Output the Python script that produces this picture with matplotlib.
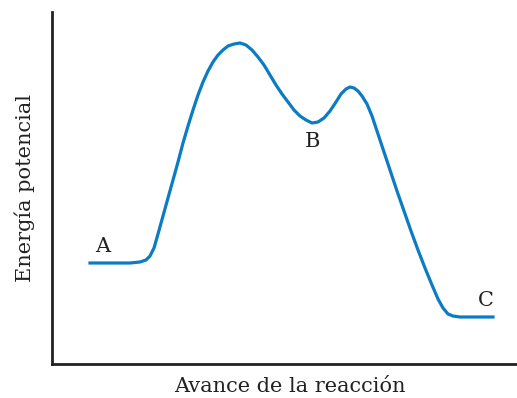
import matplotlib.pyplot as plt

# reaction coordinate (pixel-derived units) and potential energy
progress = [38, 48, 58, 68, 78, 88, 94, 98, 102, 106, 111, 116, 121, 126, 131, 136,
            141, 146, 151, 156, 161, 166, 171, 176, 182, 188, 194, 200, 206, 212,
            218, 224, 230, 236, 242, 248, 254, 260, 266, 272, 278, 284, 289, 294,
            298, 302, 306, 310, 315, 320, 325, 331, 338, 345, 352, 359, 366, 373,
            380, 386, 391, 396, 401, 408, 418, 428, 441]
energy = [101, 101, 101, 101, 101, 102, 104, 108, 116, 130, 148, 166, 184, 202,
          221, 238, 254, 269, 282, 293, 302, 309, 314, 318, 320, 321, 319, 314,
          307, 299, 289, 279, 270, 262, 254, 248, 244, 241, 242, 246, 253, 262,
          270, 275, 277, 276, 273, 268, 260, 248, 233, 215, 194, 173, 153, 133,
          114, 96, 79, 65, 56, 50, 48, 47, 47, 47, 47]

labels = ["A", "B", "C"]
label_x = [51, 261, 434]
label_y = [117, 222, 63]

font = 'DejaVu Serif'

fig = plt.figure(figsize=(5.17, 3.98), dpi=100)
ax = fig.add_axes([52 / 517, 34 / 398, 465 / 517, 352 / 398])
ax.plot(progress, energy, color='#0b7cc4', linewidth=2.3, solid_joinstyle='round')
ax.set_xlim(0, 465)
ax.set_ylim(0, 352)

for lab, x, y in zip(labels, label_x, label_y):
    ax.text(x, y, lab, fontsize=15, family=font, color='#222222',
            ha='center', va='center')

for side in ['top', 'right']:
    ax.spines[side].set_visible(False)
for side in ['left', 'bottom']:
    ax.spines[side].set_linewidth(2)
    ax.spines[side].set_color('#222222')
ax.set_xticks([])
ax.set_yticks([])

fig.text(290 / 517, 1 - 386 / 398, "Avance de la reacción", fontsize=15,
         family=font, color='#222222', ha='center', va='center')
fig.text(25 / 517, 1 - 188 / 398, "Energía potencial", fontsize=15,
         family=font, color='#222222', ha='center', va='center',
         rotation=90)

fig.savefig('out.png', dpi=100)
